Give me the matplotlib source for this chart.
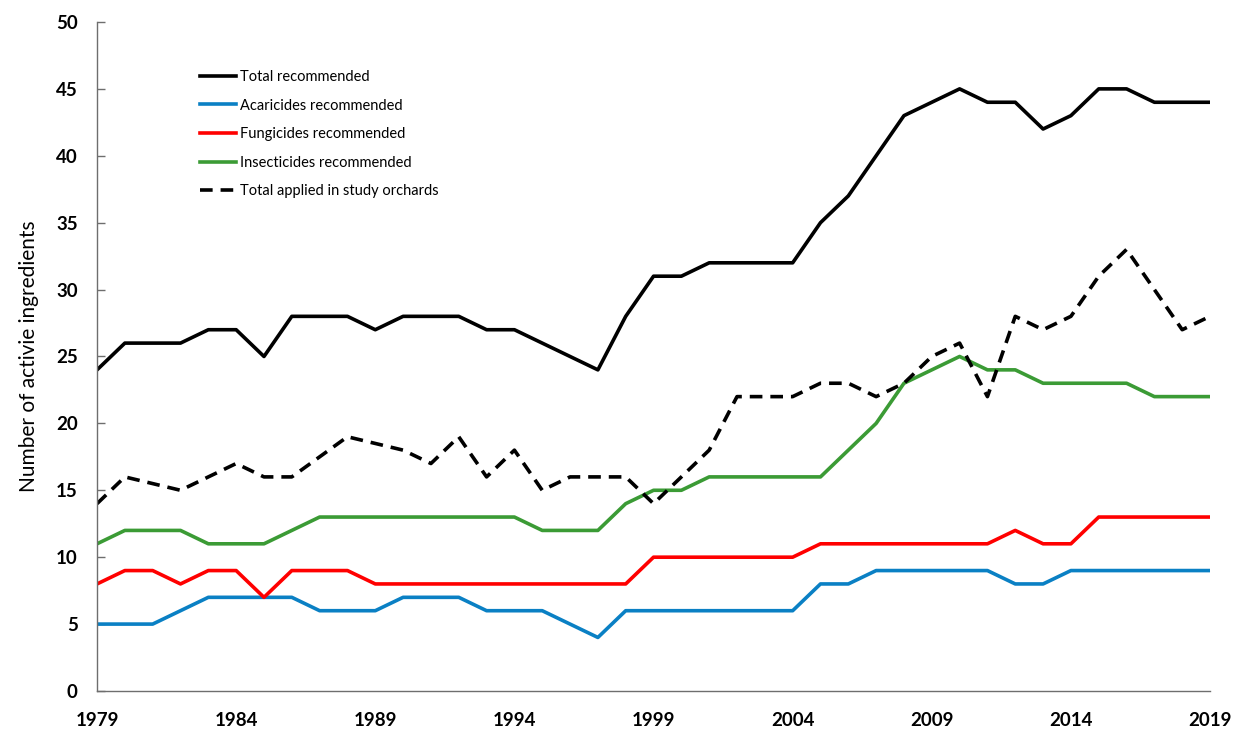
import matplotlib
matplotlib.use("Agg")
import matplotlib.pyplot as plt

years = list(range(1979, 2020))

total_recommended = [24, 26, 26, 26, 27, 27, 25, 28, 28, 28, 27, 28, 28, 28, 27, 27, 26, 25, 24, 28,
                     31, 31, 32, 32, 32, 32, 35, 37, 40, 43, 44, 45, 44, 44, 42, 43, 45, 45, 44, 44, 44]
acaricides = [5, 5, 5, 6, 7, 7, 7, 7, 6, 6, 6, 7, 7, 7, 6, 6, 6, 5, 4, 6,
              6, 6, 6, 6, 6, 6, 8, 8, 9, 9, 9, 9, 9, 8, 8, 9, 9, 9, 9, 9, 9]
fungicides = [8, 9, 9, 8, 9, 9, 7, 9, 9, 9, 8, 8, 8, 8, 8, 8, 8, 8, 8, 8,
              10, 10, 10, 10, 10, 10, 11, 11, 11, 11, 11, 11, 11, 12, 11, 11, 13, 13, 13, 13, 13]
insecticides = [11, 12, 12, 12, 11, 11, 11, 12, 13, 13, 13, 13, 13, 13, 13, 13, 12, 12, 12, 14,
                15, 15, 16, 16, 16, 16, 16, 18, 20, 23, 24, 25, 24, 24, 23, 23, 23, 23, 22, 22, 22]
total_applied = [14, 16, 15.5, 15, 16, 17, 16, 16, 17.5, 19, 18.5, 18, 17, 19, 16, 18, 15, 16, 16, 16,
                 14, 16, 18, 22, 22, 22, 23, 23, 22, 23, 25, 26, 22, 28, 27, 28, 31, 33, 30, 27, 28]

fig = plt.figure(figsize=(12.44, 7.45), dpi=100)
ax = fig.add_axes([0.078, 0.0725, 0.8947, 0.898])

lw = 2.6
ax.plot(years, total_recommended, color="black", lw=lw, label="Total recommended")
ax.plot(years, acaricides, color="#0a80c4", lw=lw, label="Acaricides recommended")
ax.plot(years, fungicides, color="#ff0000", lw=lw, label="Fungicides recommended")
ax.plot(years, insecticides, color="#3b9b35", lw=lw, label="Insecticides recommended")
ax.plot(years, total_applied, color="black", lw=lw, ls=(0, (3.5, 2.2)), label="Total applied in study orchards")

ax.set_xlim(1979, 2019)
ax.set_ylim(0, 50)
ax.set_xticks(range(1979, 2020, 5))
ax.set_yticks(range(0, 51, 5))

for s in ["top", "right"]:
    ax.spines[s].set_visible(False)
for s in ["left", "bottom"]:
    ax.spines[s].set_color("#6e6e6e")
    ax.spines[s].set_linewidth(1.0)

ax.tick_params(axis="y", direction="in", length=6, width=1, color="#6e6e6e", pad=14)
ax.tick_params(axis="x", length=0, pad=15)
for lab in ax.get_xticklabels() + ax.get_yticklabels():
    lab.set_fontfamily("Lato")
    lab.set_fontweight("bold")
    lab.set_fontsize(13.5)

ax.set_ylabel("Number of activie ingredients", fontsize=15, fontfamily="Lato", labelpad=12)

ax.legend(loc="upper left", bbox_to_anchor=(0.087, 0.937), frameon=False,
          prop={"family": "Lato", "size": 10.5}, handlelength=2.5, handletextpad=0.25,
          labelspacing=1.0, borderaxespad=0)

fig.savefig("out.png", dpi=100)
